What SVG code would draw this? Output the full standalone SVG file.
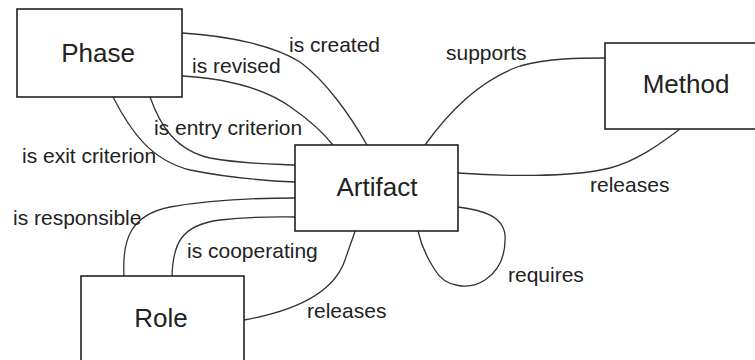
<svg xmlns="http://www.w3.org/2000/svg" width="755" height="360" viewBox="0 0 755 360">
<style>
.box{fill:#fff;stroke:#222;stroke-width:1.6}
.node{font-family:"Liberation Sans",Arial,sans-serif;font-size:26px;fill:#222;text-anchor:middle}
.lbl{font-family:"Liberation Sans",Arial,sans-serif;font-size:21px;fill:#222}
.edge{fill:none;stroke:#333;stroke-width:1.3}
</style>
<rect width="755" height="360" fill="#fff"/>
<g id="connectors">
<path class="edge" d="M182,33 C230,36 275,46 300,62 C325,80 350,115 367,145"/>
<path class="edge" d="M182,76 C235,79 270,92 292,108 C312,122 325,135 333,145"/>
<path class="edge" d="M150,97 C160,125 175,150 210,158 C250,165 280,164 295,165"/>
<path class="edge" d="M113,97 C130,130 150,160 190,170 C230,178 270,181 295,182"/>
<path class="edge" d="M124,276 C122,240 130,215 170,207 C210,200 260,198 295,198"/>
<path class="edge" d="M172,276 C173,245 180,225 220,220 C255,216 280,217 295,217"/>
<path class="edge" d="M244,320 C300,310 335,290 345,260 C350,245 353,238 355,231"/>
<path class="edge" d="M425,145 C450,110 480,80 520,66 C550,58 580,58 605,58"/>
<path class="edge" d="M458,173 C500,176 570,178 610,168 C640,160 665,140 680,129"/>
<path class="edge" d="M458,207 C480,210 503,215 505,235 C506,255 500,270 485,280 C470,290 445,288 435,270 C425,255 420,240 418,231"/>
<text class="lbl" x="289" y="52">is created</text>
<text class="lbl" x="192" y="73">is revised</text>
<text class="lbl" x="154" y="135">is entry criterion</text>
<text class="lbl" x="22" y="163">is exit criterion</text>
<text class="lbl" x="13" y="225">is responsible</text>
<text class="lbl" x="187" y="258">is cooperating</text>
<text class="lbl" x="307" y="318">releases</text>
<text class="lbl" x="446" y="60">supports</text>
<text class="lbl" x="590" y="192">releases</text>
<text class="lbl" x="508" y="282">requires</text>
</g>
<g id="phase">
<rect class="box" x="17" y="9" width="165" height="88"/>
<text class="node" x="98" y="62">Phase</text>
</g>
<g id="artifact">
<rect class="box" x="295" y="145" width="163" height="86"/>
<text class="node" x="377" y="196">Artifact</text>
</g>
<g id="method">
<rect class="box" x="605" y="43" width="160" height="86"/>
<text class="node" x="686" y="93">Method</text>
</g>
<g id="role">
<rect class="box" x="81" y="276" width="163" height="100"/>
<text class="node" x="161" y="327">Role</text>
</g>
</svg>
